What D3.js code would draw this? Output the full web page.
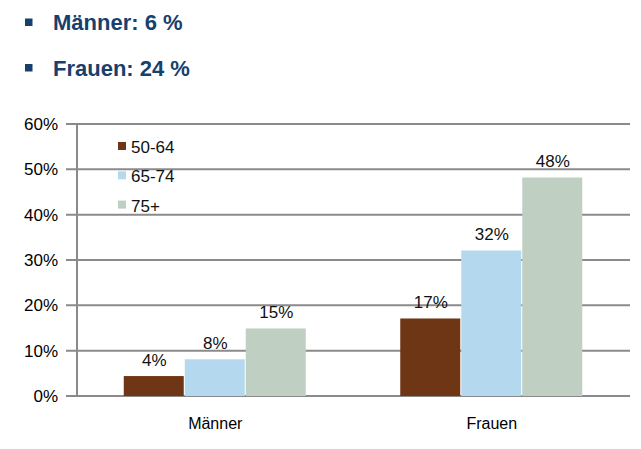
<!DOCTYPE html>
<html>
<head>
<meta charset="utf-8">
<script src="https://cdnjs.cloudflare.com/ajax/libs/d3/7.8.5/d3.min.js"></script>
<style>
  body { margin: 0; background: #fff; }
  text { font-family: "Liberation Sans", Arial, sans-serif; }
</style>
</head>
<body>
<div id="chart"></div>
<script>
// data
var groups = ["Männer", "Frauen"];
var ageBands = ["50-64", "65-74", "75+"];
var maennerValues = [4.4, 8.1, 14.9];
var frauenValues = [17.1, 32.1, 48.2];
var yTicks = [0, 10, 20, 30, 40, 50, 60];
var headlines = ["Männer: 6 %", "Frauen: 24 %"];

var colors = ["#6f3616", "#b4d9ef", "#bfd0c3"];

var svgWidth = 641;
var svgHeight = 449;

var margin = { top: 124, right: 11, bottom: 53, left: 77 };
var width = svgWidth - margin.left - margin.right;
var height = svgHeight - margin.top - margin.bottom;

var svg = d3.select("#chart")
  .append("svg")
  .attr("width", svgWidth)
  .attr("height", svgHeight);

// headline bullets
var head = svg.append("g");
headlines.forEach(function (t, i) {
  var y = 30 + i * 45.5;
  head.append("rect")
    .attr("x", 25).attr("y", y - 11.5)
    .attr("width", 7.5).attr("height", 7.5)
    .attr("fill", "#17406d");
  head.append("text")
    .attr("x", 53).attr("y", y)
    .attr("fill", "#17406d")
    .style("font-size", "22px")
    .style("font-weight", "bold")
    .text(t);
});

var chartGroup = svg.append("g")
  .attr("transform", `translate(${margin.left}, ${margin.top})`);

var rows = [maennerValues, frauenValues].map(function (vals, i) {
  return { group: groups[i], values: vals };
});

var x0 = d3.scaleBand().domain(groups).range([0, width]).paddingInner(0).paddingOuter(0);
var x1 = d3.scaleBand().domain(ageBands).range([0, 183]).padding(0);
var y = d3.scaleLinear().domain([0, 60]).range([height, 0]);

// gridlines
chartGroup.append("g")
  .selectAll("line")
  .data(yTicks)
  .enter()
  .append("line")
  .attr("x1", -11)
  .attr("x2", width)
  .attr("y1", d => y(d))
  .attr("y2", d => y(d))
  .attr("stroke", "#8a8a8a")
  .attr("stroke-width", 2);

// vertical axis line
chartGroup.append("line")
  .attr("x1", 0).attr("x2", 0)
  .attr("y1", 0).attr("y2", height)
  .attr("stroke", "#8a8a8a")
  .attr("stroke-width", 2);

// y labels
var leftAxis = d3.axisLeft(y).tickValues(yTicks).tickFormat(d => d + "%").tickSize(0).tickPadding(19);
var yAxisG = chartGroup.append("g").call(leftAxis);
yAxisG.select(".domain").remove();
yAxisG.selectAll("text")
  .style("font-size", "17px")
  .attr("fill", "#000")
  .style("font-family", "Liberation Sans, Arial, sans-serif");

// bars
var groupG = chartGroup.selectAll(".grp")
  .data(rows)
  .enter()
  .append("g")
  .attr("transform", d => `translate(${x0(d.group) + (x0.bandwidth() - 183) / 2}, 0)`);

groupG.selectAll("rect")
  .data(d => d.values.map((v, i) => ({ key: ageBands[i], value: v })))
  .enter()
  .append("rect")
  .attr("x", d => x1(d.key))
  .attr("width", x1.bandwidth() - 1)
  .attr("y", d => y(d.value))
  .attr("height", d => y(0) - y(d.value))
  .attr("fill", (d, i) => colors[i]);

groupG.selectAll(".lbl")
  .data(d => d.values.map((v, i) => ({ key: ageBands[i], value: v })))
  .enter()
  .append("text")
  .attr("x", d => x1(d.key) + x1.bandwidth() / 2)
  .attr("y", d => y(d.value) - 10)
  .attr("text-anchor", "middle")
  .style("font-size", "17px")
  .attr("fill", "#111")
  .text(d => Math.round(d.value) + "%");

// category labels
var bottomAxis = d3.axisBottom(x0).tickSize(0).tickPadding(22);
var xAxisG = chartGroup.append("g")
  .attr("transform", `translate(0, ${height})`)
  .call(bottomAxis);
xAxisG.select(".domain").remove();
xAxisG.selectAll("text")
  .style("font-size", "16px")
  .attr("fill", "#000")
  .style("font-family", "Liberation Sans, Arial, sans-serif");

// legend
var legend = svg.append("g").attr("transform", "translate(118, 153)");
ageBands.forEach(function (b, i) {
  var ly = i * 29.3;
  legend.append("rect")
    .attr("x", 0).attr("y", ly - 11)
    .attr("width", 8).attr("height", 8)
    .attr("fill", colors[i]);
  legend.append("text")
    .attr("x", 13).attr("y", ly)
    .style("font-size", "17px")
    .attr("fill", "#111")
    .text(b);
});
</script>
</body>
</html>
